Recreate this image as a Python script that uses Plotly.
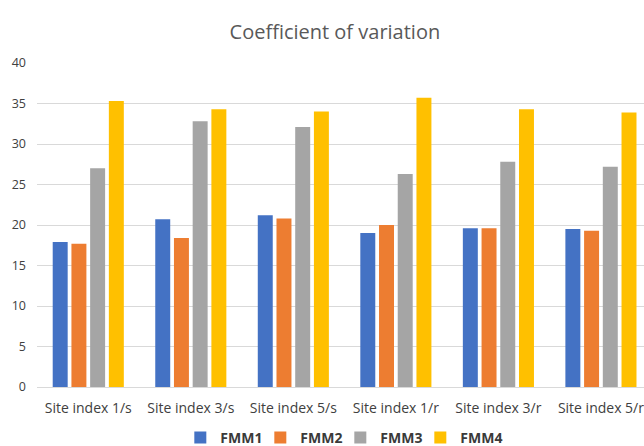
import plotly.graph_objects as go

categories = ["Site index 1/s", "Site index 3/s", "Site index 5/s",
              "Site index 1/r", "Site index 3/r", "Site index 5/r"]
fmm1 = [17.9, 20.7, 21.2, 19.0, 19.6, 19.5]
fmm2 = [17.7, 18.4, 20.8, 20.0, 19.6, 19.3]
fmm3 = [27.0, 32.8, 32.1, 26.3, 27.8, 27.2]
fmm4 = [35.3, 34.3, 34.0, 35.7, 34.3, 33.9]

series = [("FMM1", fmm1, "#4472C4"), ("FMM2", fmm2, "#ED7D31"),
          ("FMM3", fmm3, "#A5A5A5"), ("FMM4", fmm4, "#FFC000")]

fig = go.Figure()
for name, vals, color in series:
    fig.add_trace(go.Bar(x=categories, y=vals, name=name,
                         marker=dict(color=color, line=dict(width=0))))

# blank trailing legend slot so the fixed-width last entry's text isn't clipped
fig.add_trace(go.Scatter(x=[None], y=[None], name="", mode="markers",
                         opacity=0, hoverinfo="skip",
                         marker=dict(color="rgba(0,0,0,0)", size=1)))

font = "Open Sans, Liberation Sans, sans-serif"
fig.update_layout(
    width=644, height=446,
    margin=dict(l=37, r=0, t=63, b=59, autoexpand=False),
    paper_bgcolor="white", plot_bgcolor="white",
    barmode="group", bargap=0.27, bargroupgap=0.2,
    title=dict(text="Coefficient of variation", x=0.52, xanchor="center",
               y=0.928, yanchor="middle",
               font=dict(family=font, size=20, color="#595959")),
    font=dict(family=font, size=12, color="#595959"),
    xaxis=dict(range=[-0.5, 5.42], showgrid=False, showline=True,
               linecolor="#D9D9D9", linewidth=1, ticks="",
               ticklabelstandoff=8, tickangle=0,
               tickfont=dict(size=14, color="#404040")),
    yaxis=dict(range=[0, 40], dtick=5, showgrid=True, gridcolor="#D9D9D9",
               gridwidth=1, zeroline=False, ticks="", ticklabelstandoff=10,
               tickfont=dict(size=12.5, color="#404040")),
    legend=dict(orientation="h", xref="container", x=0.28, xanchor="left",
                yref="container", y=0.018, yanchor="middle",
                font=dict(size=14, color="#3A3A3A", family=font, weight="bold"),
                itemwidth=30, entrywidth=35, tracegroupgap=0,
                traceorder="normal"),
    showlegend=True,
)

fig.write_html("out.html")
